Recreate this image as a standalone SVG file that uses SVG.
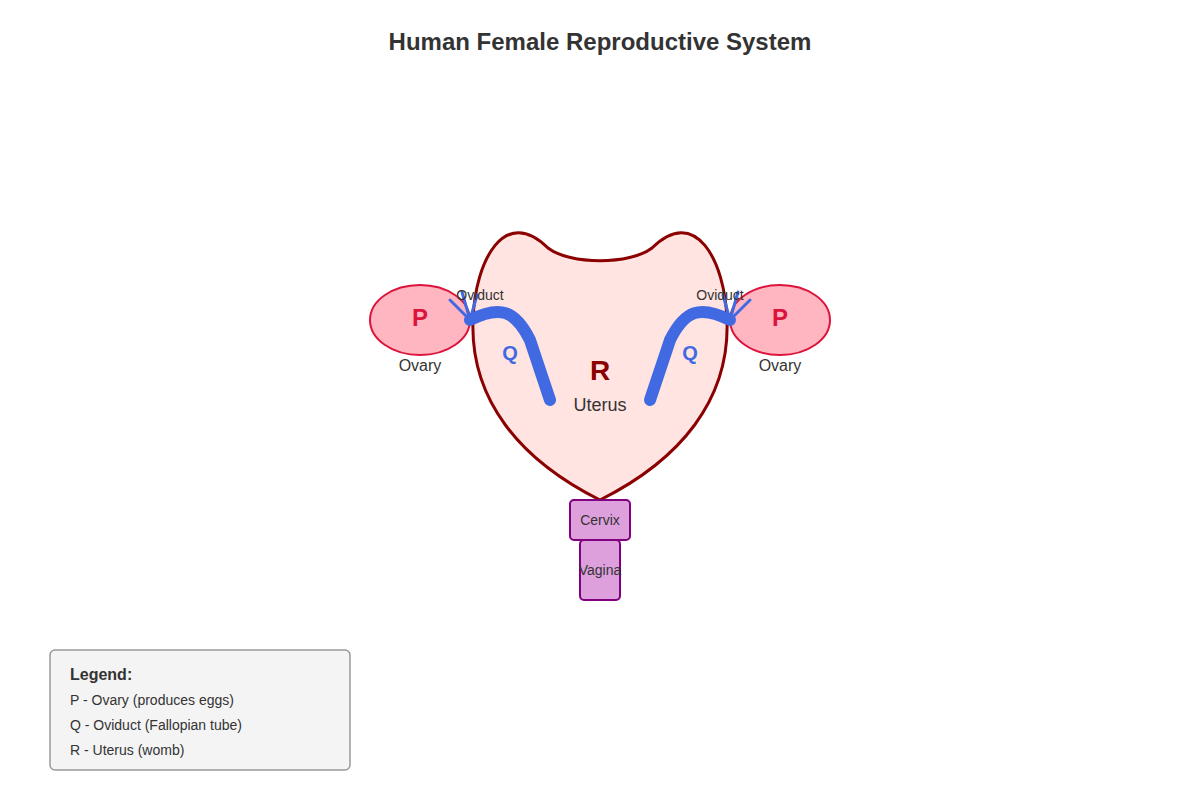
<svg xmlns="http://www.w3.org/2000/svg" width="1200" height="800" viewBox="0 0 1200 800">
<style>
.t{font-family:"Liberation Sans",Arial,sans-serif;fill:#333}
.tube{fill:none;stroke:#4169e1;stroke-width:12;stroke-linecap:round}
.fim{fill:none;stroke:#4169e1;stroke-width:3;stroke-linecap:round}
.ov{fill:#ffb6c1;stroke:#dc143c;stroke-width:2}
.box{fill:#dda0dd;stroke:#800080;stroke-width:2}
</style>
<rect width="1200" height="800" fill="#fff"/>
<text class="t" x="600" y="50" text-anchor="middle" font-size="24" font-weight="bold">Human Female Reproductive System</text>
<g id="uterus">
<path d="M600 500 C520 460 470 400 473 320 C475 260 505 205 548 248 C570 265 630 265 652 248 C695 205 725 260 727 320 C730 400 680 460 600 500 Z" fill="#ffe4e1" stroke="#8b0000" stroke-width="3"/>
<text class="t" x="600" y="380" text-anchor="middle" font-size="28" font-weight="bold" style="fill:#8b0000">R</text>
<text class="t" x="600" y="411" text-anchor="middle" font-size="18">Uterus</text>
</g>
<g id="ovary-left">
<ellipse class="ov" cx="420" cy="320" rx="50" ry="35"/>
<text class="t" x="420" y="326" text-anchor="middle" font-size="24" font-weight="bold" style="fill:#dc143c">P</text>
<text class="t" x="420" y="371" text-anchor="middle" font-size="16">Ovary</text>
</g>
<g id="ovary-right">
<ellipse class="ov" cx="780" cy="320" rx="50" ry="35"/>
<text class="t" x="780" y="326" text-anchor="middle" font-size="24" font-weight="bold" style="fill:#dc143c">P</text>
<text class="t" x="780" y="371" text-anchor="middle" font-size="16">Ovary</text>
</g>
<g id="connectors">
<path class="tube" d="M470 320 C500 305 515 310 530 340 L550 400"/>
<path class="tube" d="M730 320 C700 305 685 310 670 340 L650 400"/>
<path class="fim" d="M470 320 L450 300 M470 320 L462 292 M470 320 L477 295"/>
<path class="fim" d="M730 320 L750 300 M730 320 L738 292 M730 320 L723 295"/>
</g>
<g id="oviduct-labels">
<text class="t" x="480" y="300" text-anchor="middle" font-size="14">Oviduct</text>
<text class="t" x="720" y="300" text-anchor="middle" font-size="14">Oviduct</text>
<text class="t" x="510" y="360" text-anchor="middle" font-size="20" font-weight="bold" style="fill:#4169e1">Q</text>
<text class="t" x="690" y="360" text-anchor="middle" font-size="20" font-weight="bold" style="fill:#4169e1">Q</text>
</g>
<g id="cervix">
<rect class="box" x="570" y="500" width="60" height="40" rx="4"/>
<text class="t" x="600" y="525" text-anchor="middle" font-size="14">Cervix</text>
</g>
<g id="vagina">
<rect class="box" x="580" y="540" width="40" height="60" rx="4"/>
<text class="t" x="600" y="575" text-anchor="middle" font-size="14">Vagina</text>
</g>
<g id="legend">
<rect x="50" y="650" width="300" height="120" rx="5" fill="#f4f4f4" stroke="#999" stroke-width="1.5"/>
<text class="t" x="70" y="680" font-size="16" font-weight="bold">Legend:</text>
<text class="t" x="70" y="705" font-size="14">P - Ovary (produces eggs)</text>
<text class="t" x="70" y="730" font-size="14">Q - Oviduct (Fallopian tube)</text>
<text class="t" x="70" y="755" font-size="14">R - Uterus (womb)</text>
</g>
</svg>
